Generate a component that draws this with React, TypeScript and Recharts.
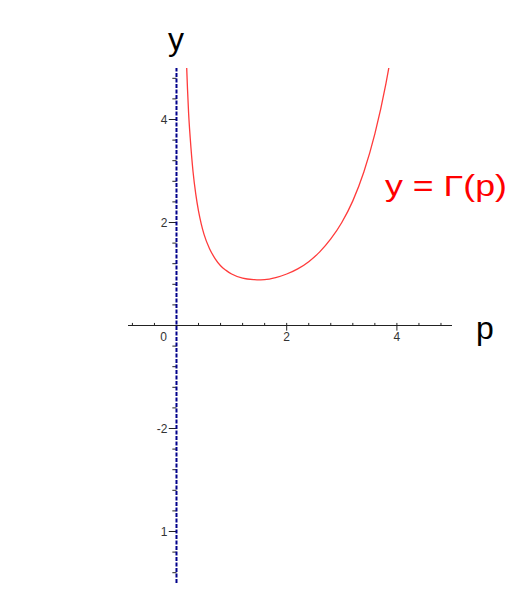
import React from 'react';
import { LineChart, Line, XAxis, YAxis, ReferenceLine, ReferenceDot } from 'recharts';

// Γ(p)
const P = [0.185, 0.2, 0.22, 0.25, 0.3, 0.35, 0.4, 0.45, 0.5, 0.6, 0.7, 0.8, 0.9, 1.0, 1.2, 1.4, 1.46, 1.6, 1.8, 2.0, 2.2, 2.4, 2.6, 2.8, 3.0, 3.2, 3.4, 3.6, 3.8, 3.86];
const GAMMA = [5.01, 4.59, 4.12, 3.63, 2.99, 2.55, 2.22, 1.97, 1.77, 1.49, 1.3, 1.16, 1.07, 1.0, 0.92, 0.89, 0.886, 0.89, 0.93, 1.0, 1.1, 1.24, 1.43, 1.68, 2.0, 2.42, 2.98, 3.72, 4.69, 5.04];

const X_MINOR = [-0.8, -0.4, 0.4, 0.8, 1.2, 1.6, 2.4, 2.8, 3.2, 3.6, 4.4, 4.8];
const X_MAJOR = [2, 4];
const X_LABEL_VALUES = [0, 2, 4];
const X_LABEL_TEXT = ['0', '2', '4'];

const Y_MINOR = [4.8, 4.4, 3.6, 3.2, 2.8, 2.4, 1.6, 1.2, 0.8, 0.4, -0.4, -0.8, -1.2, -1.6, -2.4, -2.8, -3.2, -3.6, -4.4, -4.8];
const Y_MAJOR = [4, 2, -2, -4];
const Y_LABEL_TEXT = ['4', '2', '-2', '1'];

const data = P.map((p, i) => ({ p, g: GAMMA[i] }));

const tickFont = { fontFamily: 'Liberation Sans, Arial, sans-serif', fontSize: 12, fill: '#333' };
const bigFont = 'Liberation Sans, Arial, sans-serif';

export default function App() {
  return (
    <div style={{ position: 'absolute', left: 0, top: 0, width: 522, height: 599, background: '#fff' }}>
      <LineChart width={522} height={599} data={data} margin={{ top: 68, right: 70, bottom: 16, left: 128 }}>
        <XAxis type="number" dataKey="p" domain={[-0.88, 5]} hide allowDataOverflow />
        <YAxis type="number" domain={[-5, 5]} hide allowDataOverflow />
        <ReferenceLine y={0} stroke="#222" strokeWidth={1} />
        {X_MINOR.map((v) => (
          <ReferenceLine key={'xm' + v} segment={[{ x: v, y: 0 }, { x: v, y: 0.05 }]} stroke="#222" ifOverflow="visible" />
        ))}
        {X_MAJOR.map((v) => (
          <ReferenceLine key={'xM' + v} segment={[{ x: v, y: -0.1 }, { x: v, y: 0.05 }]} stroke="#222" ifOverflow="visible" />
        ))}
        {Y_MINOR.map((v) => (
          <ReferenceLine key={'ym' + v} segment={[{ x: -0.075, y: v }, { x: 0, y: v }]} stroke="#222" ifOverflow="visible" />
        ))}
        {Y_MAJOR.map((v) => (
          <ReferenceLine key={'yM' + v} segment={[{ x: -0.14, y: v }, { x: 0, y: v }]} stroke="#222" ifOverflow="visible" />
        ))}
        <ReferenceLine x={0} stroke="#00008b" strokeWidth={2} strokeDasharray="4 1.5" />
        {X_LABEL_VALUES.map((v, i) => (
          <ReferenceDot
            key={'xl' + v}
            x={v}
            y={0}
            ifOverflow="visible"
            shape={(props: any) => (
              <text x={props.cx + (v === 0 ? -13 : 0)} y={props.cy + 15} textAnchor="middle" style={tickFont}>
                {X_LABEL_TEXT[i]}
              </text>
            )}
          />
        ))}
        {Y_MAJOR.map((v, i) => (
          <ReferenceDot
            key={'yl' + v}
            x={0}
            y={v}
            ifOverflow="visible"
            shape={(props: any) => (
              <text x={props.cx - 9} y={props.cy + 4} textAnchor="end" style={tickFont}>
                {Y_LABEL_TEXT[i]}
              </text>
            )}
          />
        ))}
        <Line type="monotone" dataKey="g" stroke="#ff3b3b" strokeWidth={1.3} dot={false} isAnimationActive={false} />
      </LineChart>
      <svg width={522} height={599} style={{ position: 'absolute', left: 0, top: 0, pointerEvents: 'none' }}>
        <text x={176} y={50} textAnchor="middle" fontFamily={bigFont} fontSize={32} fill="#000">y</text>
        <text x={485} y={339} textAnchor="middle" fontFamily={bigFont} fontSize={32} fill="#000">p</text>
        <text x={385} y={196} fontFamily={bigFont} fontSize={29} fill="#ff0000" textLength={122} lengthAdjust="spacingAndGlyphs">y = Γ(p)</text>
      </svg>
    </div>
  );
}
